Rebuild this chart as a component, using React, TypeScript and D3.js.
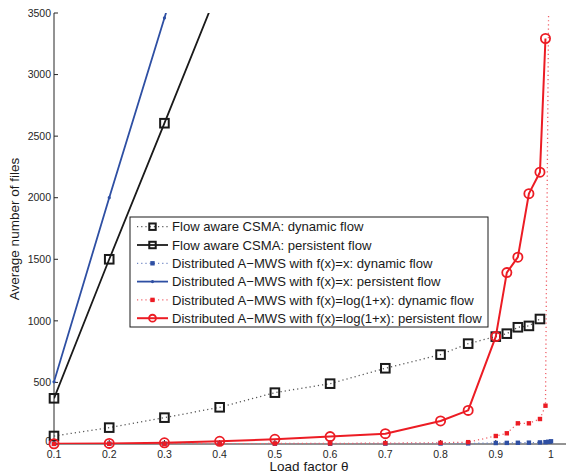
import React from "react";
import * as d3 from "d3";

// load factor values per series
const csmaDynTheta = [0.1, 0.2, 0.3, 0.4, 0.5, 0.6, 0.7, 0.8, 0.85, 0.9, 0.92, 0.94, 0.96, 0.98];
const csmaDyn = [65, 133, 214, 298, 417, 490, 615, 726, 815, 872, 896, 948, 959, 1015];

const csmaPerTheta = [0.1, 0.2, 0.3, 0.4];
const csmaPer = [371, 1500, 2605, 3720];

const linPerTheta = [0.1, 0.2, 0.3, 0.4];
const linPer = [505, 2000, 3460, 4920];

const linDynTheta = [0.1, 0.2, 0.3, 0.4, 0.5, 0.6, 0.7, 0.8, 0.85, 0.9, 0.92, 0.94, 0.96, 0.98, 0.99, 0.995, 1.0];
const linDyn = [1, 1, 1, 1, 2, 2, 3, 4, 5, 8, 9, 10, 11, 13, 15, 18, 22];

const logDynTheta = [0.1, 0.2, 0.3, 0.4, 0.5, 0.6, 0.7, 0.8, 0.85, 0.9, 0.92, 0.94, 0.96, 0.98, 0.99, 1.0];
const logDyn = [1, 2, 2, 3, 4, 5, 7, 10, 15, 65, 87, 168, 168, 203, 311, 6000];

const logPerTheta = [0.1, 0.2, 0.3, 0.4, 0.5, 0.6, 0.7, 0.8, 0.85, 0.9, 0.92, 0.94, 0.96, 0.98, 0.99];
const logPer = [2, 5, 10, 22, 38, 60, 84, 187, 273, 872, 1392, 1517, 2033, 2207, 3293];

const xTicks = [0.1, 0.2, 0.3, 0.4, 0.5, 0.6, 0.7, 0.8, 0.9, 1];
const yTicks = [0, 500, 1000, 1500, 2000, 2500, 3000, 3500];

const legendLabels = [
  "Flow aware CSMA: dynamic flow",
  "Flow aware CSMA: persistent flow",
  "Distributed A\u2212MWS with f(x)=x: dynamic flow",
  "Distributed A\u2212MWS with f(x)=x: persistent flow",
  "Distributed A\u2212MWS with f(x)=log(1+x): dynamic flow",
  "Distributed A\u2212MWS with f(x)=log(1+x): persistent flow",
];

const RED = "#ec1c24";
const BLUE = "#2e4fa3";
const BLACK = "#1a1a1a";
const FONT = "'Liberation Sans', Arial, Helvetica, sans-serif";

type Series = {
  xs: number[];
  ys: number[];
  color: string;
  lineColor: string;
  dotted: boolean;
  width: number;
  marker: "square" | "smallsquare" | "dot" | "circle";
};

const series: Series[] = [
  { xs: csmaDynTheta, ys: csmaDyn, color: BLACK, lineColor: "#555", dotted: true, width: 1.3, marker: "square" },
  { xs: csmaPerTheta, ys: csmaPer, color: BLACK, lineColor: BLACK, dotted: false, width: 1.8, marker: "square" },
  { xs: linDynTheta, ys: linDyn, color: BLUE, lineColor: "#6f86c4", dotted: true, width: 1.3, marker: "smallsquare" },
  { xs: linPerTheta, ys: linPer, color: BLUE, lineColor: BLUE, dotted: false, width: 1.8, marker: "dot" },
  { xs: logDynTheta, ys: logDyn, color: RED, lineColor: "#f06068", dotted: true, width: 1.3, marker: "smallsquare" },
  { xs: logPerTheta, ys: logPer, color: RED, lineColor: RED, dotted: false, width: 2, marker: "circle" },
];

const Marker = ({ kind, x, y, color, s = 1 }: { kind: Series["marker"]; x: number; y: number; color: string; s?: number }) => {
  if (kind === "square")
    return <rect x={x - 4.3 * s} y={y - 4.3 * s} width={8.6 * s} height={8.6 * s} fill="none" stroke={color} strokeWidth={2} />;
  if (kind === "smallsquare")
    return <rect x={x - 2.2} y={y - 2.2} width={4.4} height={4.4} fill={color} />;
  if (kind === "dot") return <circle cx={x} cy={y} r={1.6} fill={color} />;
  return <circle cx={x} cy={y} r={4.6 * s} fill="none" stroke={color} strokeWidth={1.8} />;
};

export default function App() {
  const width = 566;
  const height = 475;

  const x = d3.scaleLinear().domain([0.1, 1.0]).range([54, 551]);
  const y = d3.scaleLinear().domain([0, 3500]).range([444, 13]);
  const xEnd = 566;

  const line = d3
    .line<[number, number]>()
    .x((d) => x(d[0]))
    .y((d) => y(d[1]));

  const legX = 130;
  const legY = 217;
  const legW = 358;
  const rowH = 18.3;

  return (
    <svg width={width} height={height} style={{ position: "absolute", left: 0, top: 0, background: "#fff" }}>
      <defs>
        <clipPath id="plot">
          <rect x={54} y={y(3500)} width={xEnd - 54} height={444 - y(3500)} />
        </clipPath>
      </defs>

      {/* axes */}
      <line x1={54} x2={xEnd} y1={444} y2={444} stroke="#262626" strokeWidth={1} />
      <line x1={54} x2={54} y1={444} y2={y(3500)} stroke="#262626" strokeWidth={1} />
      {yTicks.map((t) => (
        <g key={t}>
          <line x1={54} x2={58} y1={y(t)} y2={y(t)} stroke="#262626" />
          <text x={51} y={t === 0 ? y(t) - 2.5 : y(t)} dy="0.35em" textAnchor="end" fontSize={10.5} fontFamily={FONT} fill="#262626">
            {t}
          </text>
        </g>
      ))}
      {xTicks.map((t) => (
        <g key={t}>
          <line x1={x(t)} x2={x(t)} y1={444} y2={440} stroke="#262626" />
          <text x={x(t)} y={457.5} textAnchor="middle" fontSize={10.5} fontFamily={FONT} fill="#262626">
            {t}
          </text>
        </g>
      ))}
      <text x={309} y={471} textAnchor="middle" fontSize={13.5} fontFamily={FONT} fill="#1a1a1a">
        Load factor θ
      </text>
      <text
        transform={`translate(19,229) rotate(-90)`}
        textAnchor="middle"
        fontSize={13.5}
        fontFamily={FONT}
        fill="#1a1a1a"
      >
        Average number of files
      </text>

      {/* lines */}
      <g clipPath="url(#plot)">
        {series.map((s, i) => (
          <path
            key={i}
            d={line(s.xs.map((v, j) => [v, s.ys[j]] as [number, number])) || ""}
            fill="none"
            stroke={s.lineColor}
            strokeWidth={s.width}
            strokeDasharray={s.dotted ? "1.2 3" : undefined}
            strokeLinejoin="round"
          />
        ))}
      </g>
      {/* markers */}
      {series.map((s, i) => (
        <g key={i}>
          {s.xs.map((v, j) =>
            s.ys[j] <= 3500 ? <Marker key={j} kind={s.marker} x={x(v)} y={y(s.ys[j])} color={s.color} /> : null
          )}
        </g>
      ))}

      {/* legend */}
      <rect x={legX} y={legY} width={legW} height={110} fill="#fff" stroke="#1a1a1a" strokeWidth={1} />
      {series.map((s, i) => {
        const cy = legY + 9.7 + i * rowH;
        return (
          <g key={i}>
            <line
              x1={legX + 7}
              x2={legX + 38}
              y1={cy}
              y2={cy}
              stroke={s.lineColor}
              strokeWidth={s.width}
              strokeDasharray={s.dotted ? "1.2 3" : undefined}
            />
            <Marker kind={s.marker} x={legX + 22.5} y={cy} color={s.color} s={0.75} />
            <text x={legX + 42} y={cy} dy="0.36em" fontSize={13.1} fontFamily={FONT} fill="#1a1a1a">
              {legendLabels[i]}
            </text>
          </g>
        );
      })}
    </svg>
  );
}
